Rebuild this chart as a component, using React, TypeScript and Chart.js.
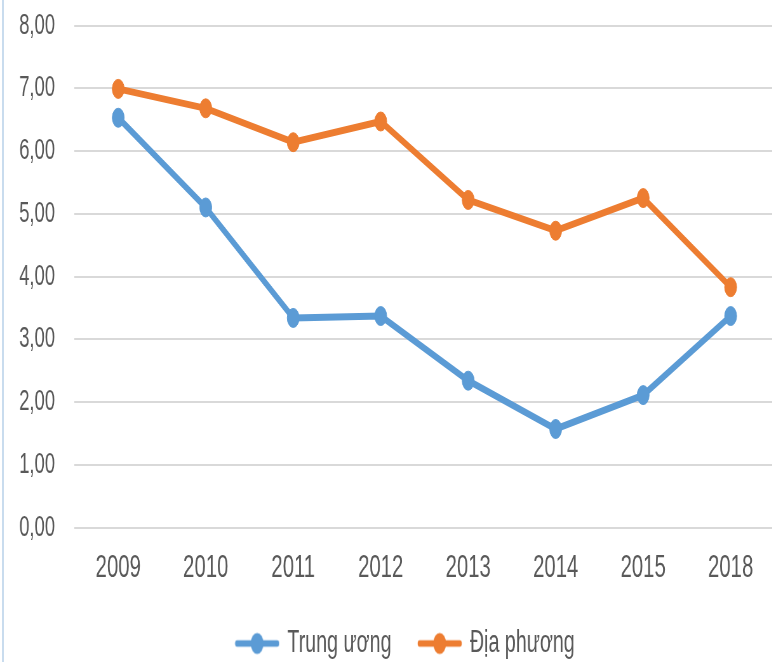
import React, { useEffect, useRef } from "react";
import { Chart, registerables } from "chart.js";

Chart.register(...registerables);

// ---- Data ----
const years = ["2009", "2010", "2011", "2012", "2013", "2014", "2015", "2018"];
const trungUong = [6.53, 5.1, 3.34, 3.37, 2.34, 1.57, 2.11, 3.37];
const diaPhuong = [6.99, 6.68, 6.14, 6.47, 5.22, 4.73, 5.25, 3.83];
const seriesNames = ["Trung ương", "Địa phương"];
const seriesColors = ["#5B9BD5", "#ED7D31"];
const yMin = 0;
const yMax = 8;
const yStep = 1;

const SCALE_X = 0.635;
const CANVAS_W = 1230;
const CANVAS_H = 662;
const LEGEND_SHIFT = 29;

function legendIcon(color: string): HTMLCanvasElement {
  const c = document.createElement("canvas");
  c.width = 71;
  c.height = 24;
  const ctx = c.getContext("2d")!;
  ctx.strokeStyle = color;
  ctx.lineWidth = 6.5;
  ctx.lineCap = "round";
  ctx.beginPath();
  ctx.moveTo(4, 12);
  ctx.lineTo(67, 12);
  ctx.stroke();
  ctx.fillStyle = color;
  ctx.beginPath();
  ctx.ellipse(35.5, 12, 10, 10.5, 0, 0, Math.PI * 2);
  ctx.fill();
  return c;
}

const shiftLegend = {
  id: "shiftLegend",
  afterLayout(chart: any) {
    const l = chart.legend;
    if (l) {
      l.left += LEGEND_SHIFT;
      l.right += LEGEND_SHIFT;
    }
  },
};

export default function App() {
  const ref = useRef<HTMLCanvasElement | null>(null);

  useEffect(() => {
    if (!ref.current) return;
    const series = [trungUong, diaPhuong];
    const font = "'Liberation Sans', Arial, sans-serif";
    const chart = new Chart(ref.current, {
      type: "line",
      data: {
        labels: years,
        datasets: series.map((d, i) => ({
          label: seriesNames[i],
          data: d,
          borderColor: seriesColors[i],
          backgroundColor: seriesColors[i],
          pointBackgroundColor: seriesColors[i],
          pointBorderColor: seriesColors[i],
          borderWidth: 7,
          pointRadius: 9.5,
          pointBorderWidth: 1,
          tension: 0,
          fill: false,
        })),
      },
      plugins: [shiftLegend],
      options: {
        responsive: false,
        animation: false,
        devicePixelRatio: 1,
        layout: { padding: { left: 0, right: 10, top: 25.5, bottom: -7 } },
        plugins: {
          tooltip: { enabled: false },
          legend: {
            position: "bottom",
            labels: {
              usePointStyle: true,
              pointStyleWidth: 64,
              padding: 44,
              color: "#595959",
              font: { family: font, size: 31 },
              generateLabels: (ch: any) =>
                ch.data.datasets.map((ds: any, i: number) => ({
                  text: ds.label,
                  pointStyle: legendIcon(seriesColors[i]),
                  fillStyle: seriesColors[i],
                  strokeStyle: seriesColors[i],
                  lineWidth: 0,
                  hidden: false,
                  datasetIndex: i,
                  fontColor: "#595959",
                })),
            },
          },
        },
        scales: {
          x: {
            offset: true,
            grid: { display: false, drawTicks: false },
            border: { display: false },
            ticks: {
              color: "#595959",
              padding: 21.3,
              font: { family: font, size: 32 },
              maxRotation: 0,
            },
            afterFit: (s: any) => {
              s.height = 56.5;
            },
          },
          y: {
            min: yMin,
            max: yMax,
            grid: {
              color: "#D9D9D9",
              lineWidth: 2,
              drawTicks: true,
              tickLength: 30,
              tickColor: "rgba(0,0,0,0)",
            },
            border: { display: false },
            ticks: {
              stepSize: yStep,
              color: "#595959",
              padding: 0.7,
              font: { family: font, size: 29 },
              callback: (v: any) => Number(v).toFixed(2).replace(".", ","),
            },
            afterFit: (s: any) => {
              s.width = 117.3;
            },
          },
        },
      },
    });
    return () => chart.destroy();
  }, []);

  return (
    <div
      style={{
        position: "fixed",
        left: 0,
        top: 0,
        width: 772,
        height: 662,
        overflow: "hidden",
        background: "#ffffff",
      }}
    >
      <div
        style={{
          position: "absolute",
          left: 0,
          top: 0,
          transform: `scaleX(${SCALE_X})`,
          transformOrigin: "0 0",
        }}
      >
        <canvas ref={ref} width={CANVAS_W} height={CANVAS_H} style={{ display: "block" }} />
      </div>
      <div
        style={{
          position: "absolute",
          left: 2,
          top: 0,
          width: 2,
          height: 662,
          background: "#C9DCEE",
        }}
      />
    </div>
  );
}
